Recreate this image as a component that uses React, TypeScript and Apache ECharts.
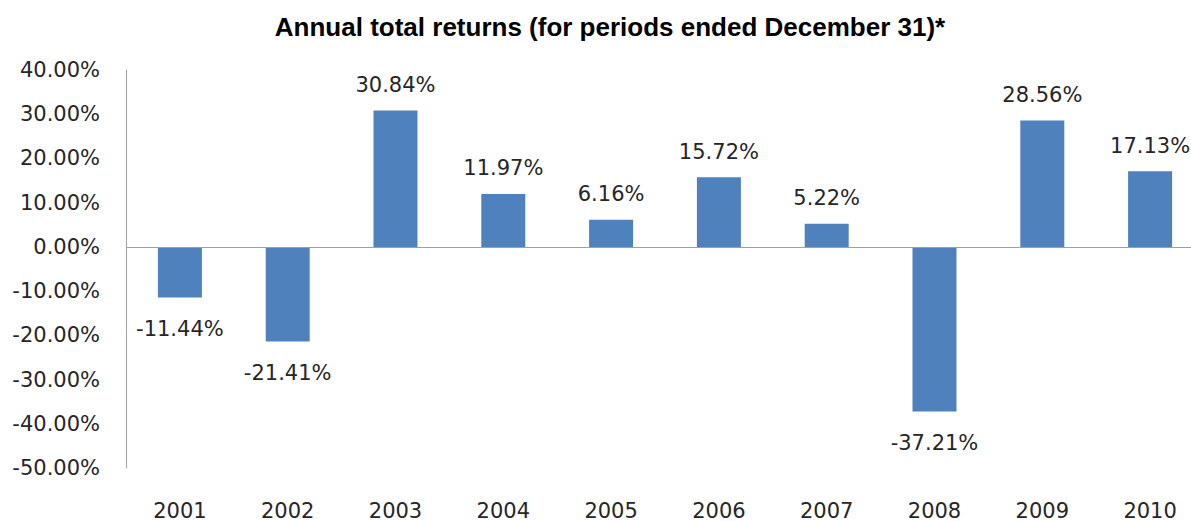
import React, { useEffect, useRef } from "react";
import * as echarts from "echarts";

const titleText = "Annual total returns (for periods ended December 31)*";
const years = ["2001", "2002", "2003", "2004", "2005", "2006", "2007", "2008", "2009", "2010"];
const returns = [-11.44, -21.41, 30.84, 11.97, 6.16, 15.72, 5.22, -37.21, 28.56, 17.13];
const yMin = -50;
const yMax = 40;
const yStep = 10;

export default function App() {
  const ref = useRef<HTMLDivElement>(null);
  useEffect(() => {
    if (!ref.current) return;
    const chart = echarts.init(ref.current, null, { renderer: "svg" });
    const labelFont = "DejaVu Sans";
    const textColor = "#262626";
    chart.setOption({
      animation: false,
      backgroundColor: "#ffffff",
      title: {
        text: titleText,
        left: "center",
        top: 9,
        textStyle: {
          fontFamily: "Liberation Sans",
          fontWeight: "bold",
          fontSize: 26,
          color: "#000000",
        },
      },
      grid: { left: 126, right: 16, top: 70, bottom: 53, containLabel: false },
      xAxis: {
        type: "category",
        data: years,
        axisLine: { show: false, onZero: false },
        axisTick: { show: false },
        axisLabel: {
          fontFamily: labelFont,
          fontSize: 21,
          color: textColor,
          margin: 32,
        },
      },
      yAxis: {
        type: "value",
        min: yMin,
        max: yMax,
        interval: yStep,
        axisLine: { show: true, lineStyle: { color: "#a0a0a0", width: 1 } },
        axisTick: { show: false },
        splitLine: { show: false },
        axisLabel: {
          fontFamily: labelFont,
          fontSize: 21,
          color: textColor,
          margin: 26,
          formatter: (v: number) => v.toFixed(2) + "%",
        },
      },
      series: [
        {
          type: "bar",
          barWidth: 44,
          itemStyle: { color: "#4f81bd" },
          data: returns.map((v) => ({
            value: v,
            label: {
              show: true,
              position: v >= 0 ? "top" : "bottom",
              distance: v >= 0 ? 15 : 21,
              formatter: v.toFixed(2) + "%",
              fontFamily: labelFont,
              fontSize: 21,
              color: textColor,
            },
          })),
          markLine: {
            silent: true,
            symbol: ["none", "none"],
            label: { show: false },
            lineStyle: { color: "#a0a0a0", width: 1, type: "solid" },
            data: [{ yAxis: 0 }],
          },
        },
      ],
    });
    return () => chart.dispose();
  }, []);
  return (
    <div
      style={{
        position: "fixed",
        left: 0,
        top: 0,
        width: 1191,
        height: 521,
        overflow: "hidden",
        background: "#fff",
      }}
    >
      <div ref={ref} style={{ width: 1220, height: 521 }} />
    </div>
  );
}
